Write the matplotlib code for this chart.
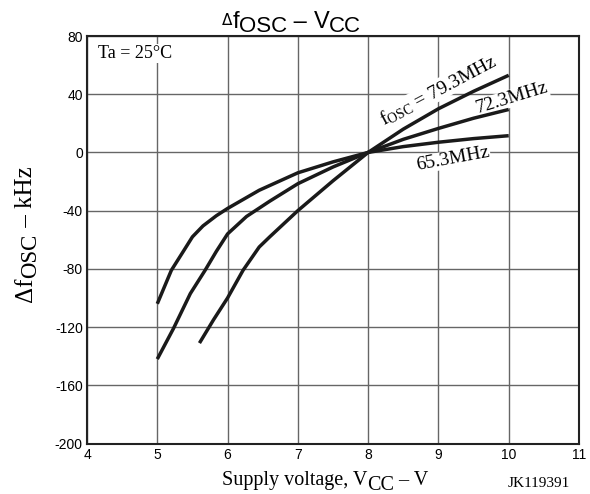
import matplotlib.pyplot as plt

plt.rcParams['mathtext.fontset'] = 'custom'
plt.rcParams['mathtext.rm'] = 'Liberation Serif'
plt.rcParams['font.family'] = 'Liberation Sans'
plt.rcParams['axes.unicode_minus'] = False

####################
# data
v_79 = [5.6, 5.8, 6.0, 6.22, 6.45, 6.6, 7.0, 7.5, 8.0, 8.5, 9.0, 9.5, 10.0]
d_79 = [-131, -115, -100, -81, -65, -58, -40, -19.5, 0, 16, 30, 42, 53]

v_72 = [5.0, 5.23, 5.47, 5.68, 5.84, 6.0, 6.27, 6.6, 7.0, 7.5, 8.0, 8.5, 9.0, 9.5, 10.0]
d_72 = [-142, -121, -97, -81, -68, -56, -44, -33.5, -21.5, -10, 0, 9, 16.5, 23.5, 29.5]

v_65 = [5.0, 5.2, 5.37, 5.5, 5.65, 5.84, 6.0, 6.45, 7.0, 7.5, 8.0, 8.5, 9.0, 9.5, 10.0]
d_65 = [-104, -81, -68, -58, -50.5, -43.5, -38.5, -26, -14, -6.5, 0, 4, 7, 9.5, 11.5]

xticks = [4, 5, 6, 7, 8, 9, 10, 11]
yticks = [-200, -160, -120, -80, -40, 0, 40, 80]
####################

W, H = 590, 494
fig = plt.figure(figsize=(W / 100, H / 100), dpi=100)
ax = fig.add_axes([87 / W, 1 - 443.5 / H, 492 / W, 407.5 / H])
ax.set_axisbelow(True)

for v, d in [(v_79, d_79), (v_72, d_72), (v_65, d_65)]:
    ax.plot(v, d, color='#1a1a1a', linewidth=2.5, solid_capstyle='butt',
            solid_joinstyle='round', zorder=3)

ax.set_xlim(4, 11)
ax.set_ylim(-200, 80)
ax.set_xticks(xticks)
ax.set_yticks(yticks)
ax.grid(True, color='#666666', linewidth=1.0)
ax.tick_params(length=0, labelsize=10, pad=3)
for s in ax.spines.values():
    s.set_linewidth(1.5)
    s.set_color('#222222')

renderer = fig.canvas.get_renderer()


def rich(x0, y0, pieces, family, rotation=0):
    # pieces: (text, baseline drop in px, fontsize[, family]); x0,y0 in image pixels (y from top)
    pos = x0 if rotation == 0 else y0
    for p in pieces:
        s, drop, size = p[:3]
        fam = p[3] if len(p) > 3 else family
        if rotation == 0:
            t = fig.text(pos / W, 1 - (y0 + drop) / H, s, fontsize=size, family=fam,
                         ha='left', va='baseline')
            pos += t.get_window_extent(renderer).width
        else:
            t = fig.text((x0 + drop) / W, 1 - pos / H, s, fontsize=size, family=fam,
                         ha='left', va='baseline', rotation=90, rotation_mode='anchor')
            pos -= t.get_window_extent(renderer).height


rich(222, 28, [('\u0394', -3, 11, 'DejaVu Sans'), ('f', 0, 17), ('OSC', 4, 16),
               (' \u2013 ', 0, 17), ('V', 0, 17), ('CC', 4, 16)], 'Liberation Sans')
rich(222, 485, [('Supply voltage, V', 0, 14.5), ('CC', 5, 14.5), (' \u2013 V', 0, 14.5)],
     'Liberation Serif')
rich(32, 302, [('\u0394f', 0, 18), ('OSC', 4, 16.5), (' \u2013 kHz', 0, 18)],
     'Liberation Serif', rotation=90)

ax.text(0.022, 0.978, 'Ta = 25°C', transform=ax.transAxes, family='Liberation Serif',
        fontsize=13, va='top', ha='left', bbox=dict(facecolor='white', edgecolor='none', pad=1))

lbl = dict(family='Liberation Serif', fontsize=14, ha='center', va='center', zorder=2,
           bbox=dict(facecolor='white', edgecolor='none', pad=0.3))
ax.text(9.0, 43, r'f$\mathrm{_{OSC}}$ = 79.3MHz', rotation=28, **lbl)
ax.text(10.05, 37.3, '72.3MHz', rotation=17, **lbl)
ax.text(9.21, -4.5, '65.3MHz', rotation=10.5, **lbl)

fig.text(570 / W, 1 - 487 / H, 'JK119391', family='Liberation Serif', fontsize=11,
         ha='right', va='baseline')

plt.savefig('out.png', dpi=100)
